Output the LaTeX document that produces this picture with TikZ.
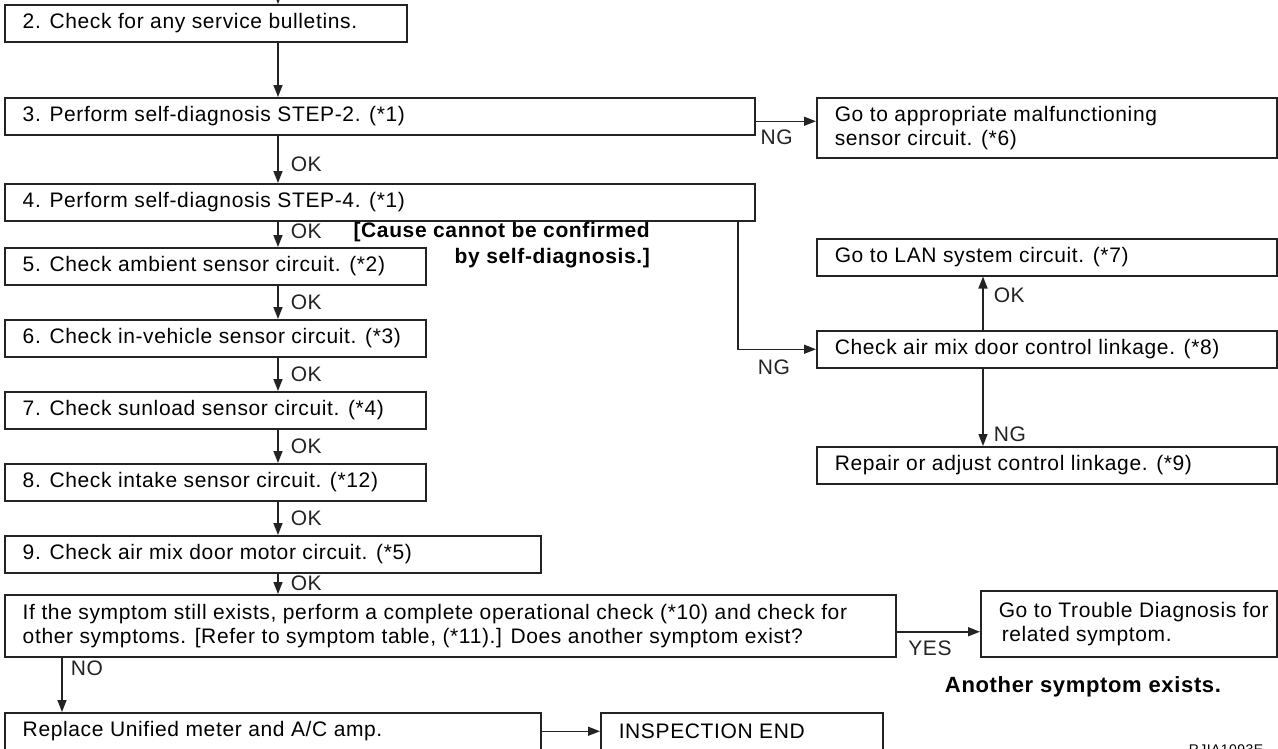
\documentclass[tikz,border=0pt]{standalone}
\usepackage{fontspec}
\setmainfont{Liberation Sans}[LetterSpace=3]
\usepackage{xcolor}
\usetikzlibrary{arrows.meta, positioning}
\definecolor{linegray}{RGB}{35, 35, 35}

\begin{document}
\begin{tikzpicture}[x=1pt, y=-1pt, >={Triangle[length=12pt, width=9pt]},
  every node/.style={font=\fontsize{21}{24}\selectfont},
  box/.style={draw=linegray, line width=1.5pt, anchor=north west, inner xsep=18pt, inner ysep=0pt,
    align=flush left, text width=#1, minimum height=37pt},
  flow/.style={->, line width=1.5pt, linegray},
  lbl/.style={inner sep=2pt},
  note/.style={font=\fontsize{21}{26}\selectfont\bfseries, align=right, inner sep=0pt}]

\useasboundingbox (0,0) rectangle (1278,748);

% columns of the arrows
\coordinate (start) at (278,-30);
\coordinate (colA) at (278,0);
\coordinate (colB) at (738,0);
\coordinate (colC) at (983,0);
\coordinate (colD) at (62,0);

% Main column
\node[box=366] at (4,4) (s2) {2. Check for any service bulletins.};
\node[box=714] at (4,97) (s3) {3. Perform self-diagnosis STEP-2. (*1)};
\node[box=714] at (4,183) (s4) {4. Perform self-diagnosis STEP-4. (*1)};
\node[box=385] at (4,247) (s5) {5. Check ambient sensor circuit. (*2)};
\node[box=385] at (4,319) (s6) {6. Check in-vehicle sensor circuit. (*3)};
\node[box=385] at (4,391) (s7) {7. Check sunload sensor circuit. (*4)};
\node[box=385] at (4,463) (s8) {8. Check intake sensor circuit. (*12)};
\node[box=500] at (4,535) (s9) {9. Check air mix door motor circuit. (*5)};
\node[box=855, minimum height=62pt] at (4,594) (ask) {If the symptom still exists, perform a complete operational check (*10) and check for\\other symptoms. [Refer to symptom table, (*11).] Does another symptom exist?};
\node[box=500] at (4,712) (amp) {Replace Unified meter and A/C amp.};
\node[box=246] at (600,712) (done) {INSPECTION END};

% Right column
\node[box=424, minimum height=60pt] at (816,97) (sensor) {Go to appropriate malfunctioning\\sensor circuit. (*6)};
\node[box=424] at (816,238) (lan) {Go to LAN system circuit. (*7)};
\node[box=424] at (816,330) (link) {Check air mix door control linkage. (*8)};
\node[box=424] at (816,446) (repair) {Repair or adjust control linkage. (*9)};
\node[box=290, inner xsep=3pt, minimum height=66pt] at (980,590) (other) {\hspace*{15pt}Go to Trouble Diagnosis for\\\hspace*{18pt}related symptom.};

% Notes
\node[note, anchor=north east] at (650,222) (cause) {[Cause cannot be confirmed\\by self-diagnosis.]};
\node[note, font=\fontsize{22}{26}\selectfont\bfseries] at (1083,687) (exists) {Another symptom exists.};
\node[font=\fontsize{14}{16}\selectfont] at (1226,750) (code) {RJIA1093E};

% Connections
\draw[flow] (start) -- (s2.north -| start);
\draw[flow] (s2.south -| colA) -- (s3.north -| colA);
\draw[flow] (s3.south -| colA) -- node[lbl, right=10pt, pos=0.6] (ok1) {OK} (s4.north -| colA);
\draw[flow] (s4.south -| colA) -- node[lbl, right=10pt, pos=0.4] (ok2) {OK} (s5.north -| colA);
\draw[flow] (s5.south -| colA) -- node[lbl, right=10pt] (ok3) {OK} (s6.north -| colA);
\draw[flow] (s6.south -| colA) -- node[lbl, right=10pt] (ok4) {OK} (s7.north -| colA);
\draw[flow] (s7.south -| colA) -- node[lbl, right=10pt] (ok5) {OK} (s8.north -| colA);
\draw[flow] (s8.south -| colA) -- node[lbl, right=10pt] (ok6) {OK} (s9.north -| colA);
\draw[flow] (s9.south -| colA) -- node[lbl, right=10pt] (ok7) {OK} (ask.north -| colA);
\draw[flow] (ask.south -| colD) -- node[lbl, right=6pt, pos=0.2] (no) {NO} (amp.north -| colD);
\draw[flow] (amp.east) -- (amp.east -| done.west);

\draw[flow] (s3.east) ++(0,5) coordinate (ng0) -- node[lbl, below=6pt, pos=0.35] (ng1) {NG} (ng0 -| sensor.west);
\draw[flow] (s4.south -| colB) |- node[lbl, below=8pt, pos=0.73] (ng2) {NG} (link.west);
\draw[flow] (link.north -| colC) -- node[lbl, right=8pt, pos=0.65] (ok8) {OK} (lan.south -| colC);
\draw[flow] (link.south -| colC) -- node[lbl, right=8pt, pos=0.85] (ng3) {NG} (repair.north -| colC);
\draw[flow] (ask.east) ++(0,6) coordinate (yes0) -- node[lbl, below=6pt, pos=0.4] (yes) {YES} (yes0 -| other.west);

\end{tikzpicture}
\end{document}
